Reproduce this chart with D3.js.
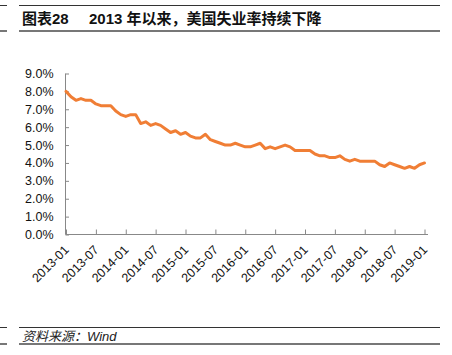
<!DOCTYPE html>
<html><head><meta charset="utf-8">
<script src="https://cdn.jsdelivr.net/npm/d3@7"></script>
<style>
html,body{margin:0;padding:0;background:#fff;}
svg{display:block;}
text{font-family:"Liberation Sans","Noto Sans CJK SC",Arial,sans-serif;}
</style></head><body>
<svg id="c" width="452" height="355"></svg>
<script>
const title = "图表28";
const subtitle = "2013 年以来，美国失业率持续下降";
const source = "资料来源：Wind";
const startYear = 2013, startMonth = 1;
const rates = [
 8.0,7.7,7.5,7.6,7.5,7.5,7.3,7.2,7.2,7.2,6.9,6.7,
 6.6,6.7,6.7,6.2,6.3,6.1,6.2,6.1,5.9,5.7,5.8,5.6,
 5.7,5.5,5.4,5.4,5.6,5.3,5.2,5.1,5.0,5.0,5.1,5.0,
 4.9,4.9,5.0,5.1,4.8,4.9,4.8,4.9,5.0,4.9,4.7,4.7,
 4.7,4.7,4.5,4.4,4.4,4.3,4.3,4.4,4.2,4.1,4.2,4.1,
 4.1,4.1,4.1,3.9,3.8,4.0,3.9,3.8,3.7,3.8,3.7,3.9,
 4.0
];
const yTicks = [0,1,2,3,4,5,6,7,8,9];
const xTickIdx = [0,6,12,18,24,30,36,42,48,54,60,66,72];

function label(i){
  const m = startMonth - 1 + i;
  const y = startYear + Math.floor(m/12);
  const mm = (m%12)+1;
  return y + "-" + String(mm).padStart(2,"0");
}

const svg = d3.select("#c");
// header rules
svg.append("line").attr("x1",0).attr("x2",7).attr("y1",5.5).attr("y2",5.5).attr("stroke","#333").attr("stroke-width",1);
svg.append("line").attr("x1",19).attr("x2",440).attr("y1",5.5).attr("y2",5.5).attr("stroke","#333").attr("stroke-width",1);
svg.append("line").attr("x1",0).attr("x2",7).attr("y1",31).attr("y2",31).attr("stroke","#777").attr("stroke-width",2);
svg.append("line").attr("x1",19).attr("x2",440).attr("y1",31).attr("y2",31).attr("stroke","#777").attr("stroke-width",2);
const t = svg.append("text").attr("x",22).attr("y",23.5).attr("font-size",15).attr("font-weight","bold").attr("fill","#111");
t.append("tspan").text(title);
t.append("tspan").attr("x",89).text(subtitle);

// footer rules
svg.append("line").attr("x1",0).attr("x2",7).attr("y1",327.5).attr("y2",327.5).attr("stroke","#333").attr("stroke-width",1);
svg.append("line").attr("x1",19).attr("x2",440).attr("y1",327.5).attr("y2",327.5).attr("stroke","#333").attr("stroke-width",1);
svg.append("line").attr("x1",0).attr("x2",7).attr("y1",344).attr("y2",344).attr("stroke","#777").attr("stroke-width",2);
svg.append("line").attr("x1",19).attr("x2",440).attr("y1",344).attr("y2",344).attr("stroke","#777").attr("stroke-width",2);
svg.append("text").attr("x",22).attr("y",340.5).attr("font-size",13).attr("font-style","italic").attr("fill","#222").text(source);

const x = d3.scaleLinear().domain([0,72]).range([66,424.5]);
const y = d3.scaleLinear().domain([0,9]).range([234.5,73.5]);

// y axis
const ya = svg.append("g").attr("transform","translate(65.5,0)")
  .call(d3.axisLeft(y).tickValues(yTicks).tickSize(-3.5).tickPadding(12).tickFormat(d=>d.toFixed(1)+"%"));
ya.select(".domain").attr("stroke","#888").attr("d","M0,73.5V234.5");
ya.selectAll(".tick line").attr("stroke","#888");
ya.selectAll(".tick text").attr("font-size",12.5).attr("fill","#111").attr("font-family","Liberation Sans, Arial, sans-serif");

// x axis
const xa = svg.append("g").attr("transform","translate(0,234.5)")
  .call(d3.axisBottom(x).tickValues(xTickIdx).tickSize(-5).tickFormat(label));
xa.select(".domain").attr("stroke","#888").attr("d","M65.5,0H428");
xa.selectAll(".tick line").attr("stroke","#888");
xa.selectAll(".tick text").attr("font-size",12.5).attr("fill","#111")
  .attr("font-family","Liberation Sans, Arial, sans-serif")
  .attr("text-anchor","end").attr("dy",0)
  .attr("transform","translate(1,14) rotate(-45)");

// line
svg.append("path").datum(rates)
  .attr("fill","none").attr("stroke","#F07E35").attr("stroke-width",3)
  .attr("stroke-linejoin","round").attr("stroke-linecap","round")
  .attr("d", d3.line().x((d,i)=>x(i)).y(d=>y(d)));
</script>
</body></html>
